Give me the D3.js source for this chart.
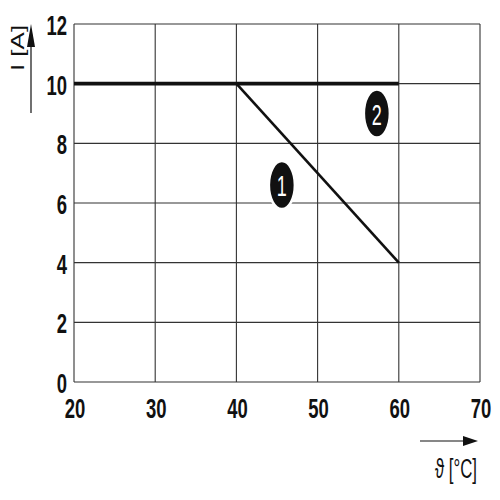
<!DOCTYPE html>
<html>
<head>
<meta charset="utf-8">
<script src="https://cdn.jsdelivr.net/npm/d3@7"></script>
<style>
  body { margin: 0; background: #fff; }
  text { font-family: "Liberation Sans", Arial, sans-serif; fill: #111; }
</style>
</head>
<body>
<div id="main"></div>
<script>
const width = 500;
const height = 500;

// data
const xTicks = [20, 30, 40, 50, 60, 70];
const yTicks = [0, 2, 4, 6, 8, 10, 12];
const curve2 = [[20, 10], [60, 10]];
const curve1 = [[40, 10], [60, 4]];
const markers = [
  { label: "1", x: 45.6, y: 6.6 },
  { label: "2", x: 57.3, y: 9.0 },
];

const margin = { left: 74, right: 20, top: 24, bottom: 118 };
const squeeze = 0.6; // the type in the drawing is horizontally condensed

const x = d3.scaleLinear().domain([20, 70]).range([margin.left, width - margin.right]);
const y = d3.scaleLinear().domain([0, 12]).range([height - margin.bottom, margin.top]);

const svg = d3.select("#main").append("svg").attr("width", width).attr("height", height);

// narrow text helper
const addText = (sel, tx, ty, str, size, anchor, weight, sq = squeeze) =>
  sel
    .append("text")
    .attr("transform", `translate(${tx}, ${ty}) scale(${sq}, 1)`)
    .attr("text-anchor", anchor)
    .style("font-size", size + "px")
    .style("font-weight", weight)
    .text(str);

// grid
const grid = svg.append("g").attr("stroke", "#333").attr("stroke-width", 1.1);
grid
  .selectAll("line.v")
  .data(xTicks)
  .enter()
  .append("line")
  .attr("x1", (d) => x(d))
  .attr("x2", (d) => x(d))
  .attr("y1", y(12))
  .attr("y2", y(0));
grid
  .selectAll("line.h")
  .data(yTicks)
  .enter()
  .append("line")
  .attr("x1", x(20))
  .attr("x2", x(70))
  .attr("y1", (d) => y(d))
  .attr("y2", (d) => y(d));

// tick labels
yTicks.forEach((d) => addText(svg, x(20) - 7, y(d) + 11, d, 28, "end", "bold", 0.66));
xTicks.forEach((d) => addText(svg, x(d) + 1, y(0) + 36, d, 28, "middle", "bold", 0.66));

// curves
const line = d3
  .line()
  .x((d) => x(d[0]))
  .y((d) => y(d[1]));

svg.append("path").attr("d", line(curve2)).attr("fill", "none").attr("stroke", "#111").attr("stroke-width", 3.6);
svg.append("path").attr("d", line(curve1)).attr("fill", "none").attr("stroke", "#111").attr("stroke-width", 2.6);

// numbered markers
markers.forEach((m) => {
  const g = svg.append("g").attr("transform", `translate(${x(m.x)}, ${y(m.y)})`);
  g.append("ellipse").attr("rx", 13).attr("ry", 24).attr("fill", "#111").attr("stroke", "#fff").attr("stroke-width", 2.5);
  addText(g, 0, 11, m.label, 30, "middle", "normal").style("fill", "#fff");
});

// y axis title with arrow
svg
  .append("line")
  .attr("x1", 31)
  .attr("x2", 31)
  .attr("y1", 113)
  .attr("y2", 40)
  .attr("stroke", "#111")
  .attr("stroke-width", 1.2);
svg.append("path").attr("d", "M31,24L35,47L27,47Z").attr("fill", "#111");
svg
  .append("text")
  .attr("transform", `translate(24, 48) scale(0.72, 1) rotate(-90)`)
  .attr("text-anchor", "middle")
  .style("font-size", "26px")
  .text("I [A]");

// x axis title with arrow
svg
  .append("line")
  .attr("x1", 420)
  .attr("x2", 466)
  .attr("y1", 441)
  .attr("y2", 441)
  .attr("stroke", "#111")
  .attr("stroke-width", 1.2);
svg.append("path").attr("d", "M478,441L463,436L463,446Z").attr("fill", "#111");
addText(svg, 477, 478, "ϑ [°C]", 28, "end", "normal");
</script>
</body>
</html>
